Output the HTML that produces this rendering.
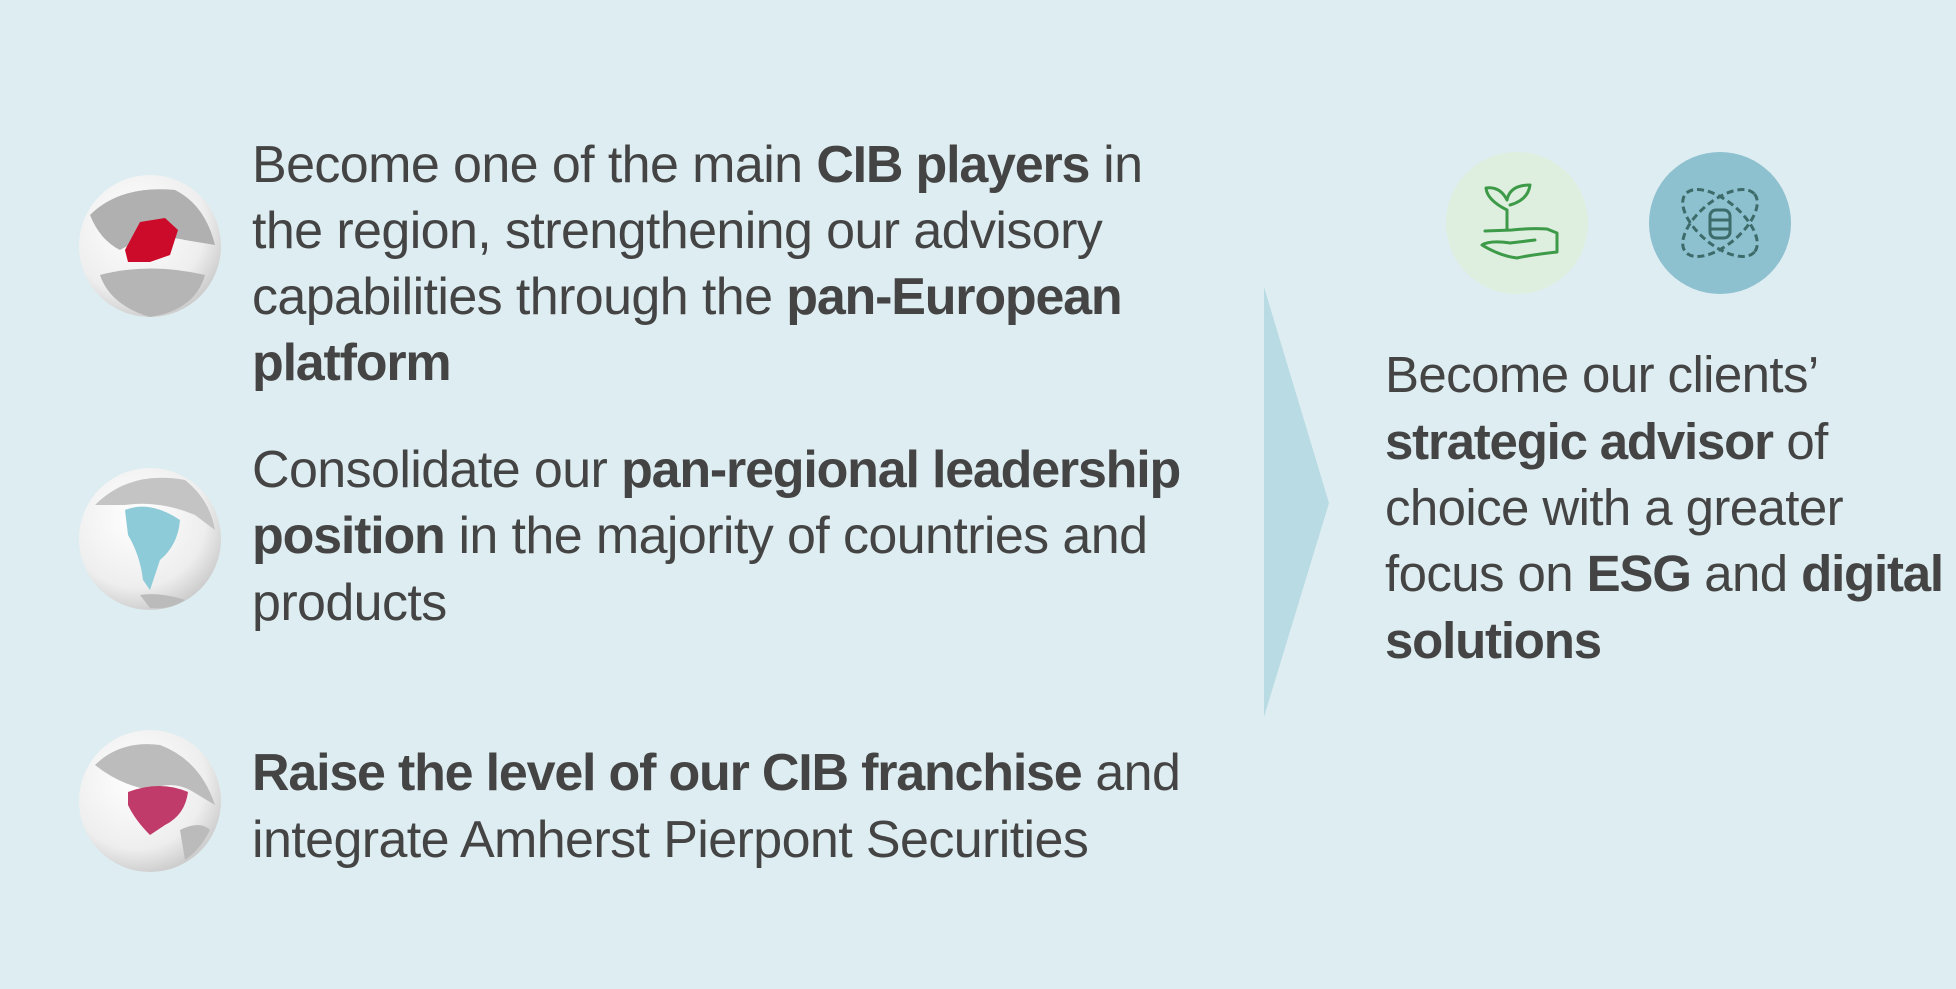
<!DOCTYPE html>
<html><head><meta charset="utf-8"><style>
body{margin:0;width:1956px;height:989px;background:#deedf1;overflow:hidden;position:relative;font-family:"Liberation Sans",sans-serif;color:#444;}
.t{position:absolute;font-size:52px;line-height:66px;white-space:nowrap;letter-spacing:-0.6px;}
.r{font-size:51px;}
b{font-weight:bold;letter-spacing:-1.2px;}
svg{position:absolute;left:0;top:0;}
</style></head><body>
<svg width="1956" height="989">
<defs>
<radialGradient id="g" cx="40%" cy="35%" r="70%"><stop offset="0" stop-color="#ffffff"/><stop offset="0.7" stop-color="#eeeeee"/><stop offset="1" stop-color="#c8c8c8"/></radialGradient>
</defs>
<circle cx="150" cy="246" r="71" fill="url(#g)"/>
<path d="M90 215 Q120 185 175 190 Q205 205 215 245 L185 240 Q150 232 120 250 Q100 240 90 215Z" fill="#b0b0b0"/>
<path d="M100 275 Q150 262 205 275 Q195 310 150 317 Q110 305 100 275Z" fill="#b5b5b5"/>
<path d="M125 250 L140 222 L165 218 L178 230 L170 255 L150 262 L128 262Z" fill="#cc0a2a"/>
<circle cx="150" cy="539" r="71" fill="url(#g)"/>
<path d="M95 505 Q130 470 185 480 Q210 500 215 530 L195 515 Q160 500 125 505Z" fill="#c4c4c4"/>
<path d="M125 510 Q150 500 180 520 Q178 545 160 560 L150 590 L143 580 Q140 555 128 535Z" fill="#8ecbd8"/>
<path d="M140 595 Q160 592 185 600 Q170 610 150 608Z" fill="#bbb"/>
<circle cx="150" cy="801" r="71" fill="url(#g)"/>
<path d="M95 765 Q120 740 160 745 Q200 760 215 805 L190 790 Q170 780 150 790 Q120 785 95 765Z" fill="#bcbcbc"/>
<path d="M128 792 Q160 780 188 792 Q185 815 165 825 L150 835 Q135 820 128 805Z" fill="#c03a6a"/>
<path d="M180 830 Q200 820 210 830 Q200 850 185 860Z" fill="#bbb"/>
<polygon points="1264,287 1329,503 1264,717" fill="#b9dbe3"/>
<circle cx="1517" cy="223" r="71" fill="#dfefdf"/>
<g fill="none" stroke="#3c9a48" stroke-width="3" stroke-linecap="round" stroke-linejoin="round">
<path d="M1507 230 L1507 210 M1507 210 Q1487 200 1486 188 Q1500 186 1507 200 M1507 200 Q1510 185 1530 185 Q1528 200 1510 205"/>
<path d="M1485 231 L1512 230 Q1530 228 1547 229 L1557 233 L1557 252 Q1530 255 1517 258 Q1500 256 1482 245 Q1490 240 1510 243 L1535 240"/>
</g>
<circle cx="1720" cy="223" r="71" fill="#8dc1d0"/>
<g fill="none" stroke="#3d6b6a" stroke-width="3" stroke-dasharray="7 4">
<ellipse cx="1720" cy="223" rx="45" ry="22" transform="rotate(40 1720 223)"/>
<ellipse cx="1720" cy="223" rx="45" ry="22" transform="rotate(-40 1720 223)"/>
</g>
<g fill="none" stroke="#3d6b6a" stroke-width="3">
<rect x="1710" y="210" width="20" height="28" rx="6"/>
<line x1="1710" y1="220" x2="1730" y2="220"/><line x1="1710" y1="229" x2="1730" y2="229"/>
</g>
</svg>
<div class="t" style="left:252px;top:132px">Become one of the main <b>CIB players</b> in</div>
<div class="t" style="left:252px;top:198px">the region, strengthening our advisory</div>
<div class="t" style="left:252px;top:264px">capabilities through the <b>pan-European</b></div>
<div class="t" style="left:252px;top:330px"><b>platform</b></div>
<div class="t" style="left:252px;top:437px">Consolidate our <b>pan-regional leadership</b></div>
<div class="t" style="left:252px;top:503px"><b>position</b> in the majority of countries and</div>
<div class="t" style="left:252px;top:570px">products</div>
<div class="t" style="left:252px;top:740px"><b>Raise the level of our CIB franchise</b> and</div>
<div class="t" style="left:252px;top:807px">integrate Amherst Pierpont Securities</div>
<div class="t r" style="left:1385px;top:342px">Become our clients’</div>
<div class="t r" style="left:1385px;top:409px"><b>strategic advisor</b> of</div>
<div class="t r" style="left:1385px;top:475px">choice with a greater</div>
<div class="t r" style="left:1385px;top:541px">focus on <b>ESG</b> and <b>digital</b></div>
<div class="t r" style="left:1385px;top:608px"><b>solutions</b></div>
</body></html>
